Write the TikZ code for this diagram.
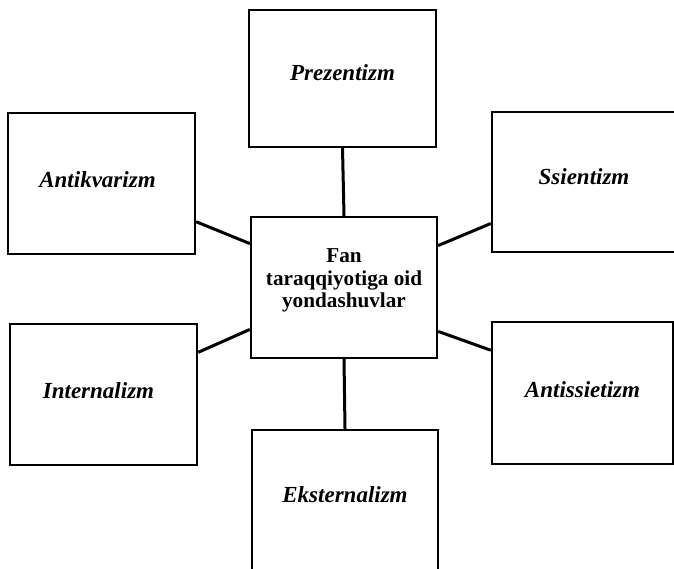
\documentclass[tikz,border=0pt]{standalone}
\usepackage{fontspec}
\setmainfont{Liberation Serif}
\begin{document}
\begin{tikzpicture}[x=1pt,y=-1pt,
  box/.style={draw=black, line width=2.4pt, fill=white, rectangle, inner sep=0pt},
  txt/.style={inner sep=0pt, align=center, font=\fontsize{23}{26}\selectfont\bfseries\itshape},
  hubtxt/.style={inner sep=0pt, align=center, font=\fontsize{21.2}{22.8}\selectfont\bfseries},
  link/.style={draw=black, line width=3pt}]
\path[use as bounding box] (0,0) rectangle (674,568);
\clip (0,0) rectangle (674,568);
\fill[white] (0,0) rectangle (674,568);
\node[box, minimum width=186pt, minimum height=141pt,
  label={[hubtxt, yshift=7pt]center:Fan\\taraqqiyotiga oid\\yondashuvlar}] (c) at (344,287.5) {};
\node[box, minimum width=187pt, minimum height=137pt,
  label={[txt, yshift=6pt]center:Prezentizm}] (p) at (342.5,78.5) {};
\node[box, minimum width=187pt, minimum height=141pt,
  label={[txt, yshift=4pt, xshift=-4pt]center:Antikvarizm}] (a) at (101.5,183.5) {};
\node[box, minimum width=184pt, minimum height=140pt,
  label={[txt, yshift=5pt]center:Ssientizm}] (s) at (584,182) {};
\node[box, minimum width=187pt, minimum height=141pt,
  label={[txt, yshift=4pt, xshift=-5pt]center:Internalizm}] (i) at (103.5,394.5) {};
\node[box, minimum width=181pt, minimum height=142pt,
  label={[txt, yshift=3pt]center:Antissietizm}] (t) at (582.5,393) {};
\node[box, minimum width=186pt, minimum height=140pt,
  label={[txt, yshift=5pt]center:Eksternalizm}] (e) at (345,500) {};
\draw[link] (p.south) -- (c.north);
\draw[link] (c.south) -- (e.north);
\draw[link] (a.-22) -- (c.155.7);
\draw[link] (c.24.3) -- (s.204);
\draw[link] (i.24.4) -- (c.204.3);
\draw[link] (c.335.7) -- (t.155.8);
\end{tikzpicture}
\end{document}
